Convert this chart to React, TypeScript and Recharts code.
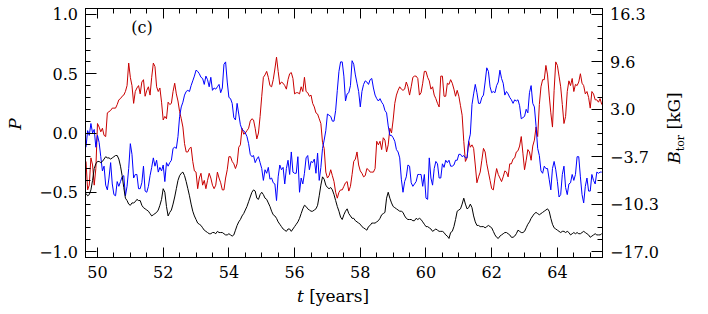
import React from "react";
import { LineChart, Line, XAxis, YAxis } from "recharts";

const yearsA = [
  49.65, 49.75, 49.85, 49.95, 50.05, 50.15, 50.25, 50.35, 50.45, 50.55,
  50.65, 50.75, 50.85, 50.95, 51.05, 51.15, 51.25, 51.35, 51.45, 51.55,
  51.65, 51.75, 51.85, 51.95, 52.05, 52.15, 52.25, 52.35, 52.45, 52.55,
  52.65, 52.75, 52.85, 52.95, 53.05, 53.15, 53.25, 53.35, 53.45, 53.55,
  53.65, 53.75, 53.85, 53.95, 54.05, 54.15, 54.25, 54.35, 54.45, 54.55,
  54.65, 54.75, 54.85, 54.95, 55.05, 55.15, 55.25, 55.35, 55.45, 55.55,
  55.65, 55.75, 55.85, 55.95, 56.05, 56.15, 56.25, 56.35, 56.45, 56.55,
  56.65, 56.75, 56.85, 56.95, 57.05, 57.15, 57.25, 57.35, 57.45, 57.55,
  57.65, 57.75, 57.85, 57.95, 58.05, 58.15, 58.25, 58.35, 58.45, 58.55,
  58.65, 58.75, 58.85, 58.95, 59.05, 59.15, 59.25, 59.35, 59.45, 59.55,
  59.65, 59.75, 59.85, 59.95, 60.05, 60.15, 60.25, 60.35, 60.45, 60.55,
  60.65, 60.75, 60.85, 60.95, 61.05, 61.15, 61.25, 61.35, 61.45, 61.55,
  61.65, 61.75, 61.85, 61.95, 62.05, 62.15, 62.25, 62.35, 62.45, 62.55,
  62.65, 62.75, 62.85, 62.95, 63.05, 63.15, 63.25, 63.35, 63.45, 63.55,
  63.65, 63.75, 63.85, 63.95, 64.05, 64.15, 64.25, 64.35, 64.45, 64.55,
  64.65, 64.75, 64.85, 64.95, 65.05, 65.15, 65.25, 65.35,
];

const redA = [
  -0.24, -0.44, -0.27, -0.30, 0.05, 0.04, -0.03, 0.18, 0.21, 0.21,
  0.28, 0.31, 0.35, 0.59, 0.40, 0.35, 0.40, 0.43, 0.31, 0.39,
  0.47, 0.56, 0.35, 0.26, 0.14, 0.26, 0.25, 0.42, 0.27, 0.12,
  -0.09, -0.16, -0.12, -0.32, -0.47, -0.34, -0.40, -0.40, -0.38, -0.47,
  -0.33, -0.42, -0.48, -0.31, -0.20, -0.26, -0.26, -0.10, -0.01, 0.02,
  0.10, 0.11, -0.05, 0.14, 0.47, 0.52, 0.40, 0.45, 0.64, 0.41,
  0.42, 0.37, 0.50, 0.46, 0.34, 0.33, 0.35, 0.35, 0.31, 0.25,
  0.17, 0.12, -0.08, -0.33, -0.36, -0.36, -0.50, -0.50, -0.48, -0.42,
  -0.49, -0.35, -0.22, -0.27, -0.34, -0.36, -0.31, -0.33, -0.30, -0.10,
  -0.14, -0.06, -0.10, 0.0, 0.25, 0.36, 0.37, 0.37, 0.39, 0.39,
  0.48, 0.46, 0.34, 0.52, 0.47, 0.37, 0.32, 0.25, 0.48, 0.31,
  0.42, 0.45, 0.37, 0.36, 0.23, -0.07, -0.21, -0.12, -0.13, -0.42,
  -0.33, -0.13, -0.26, -0.40, -0.48, -0.30, -0.38, -0.37, -0.33, -0.26,
  -0.22, -0.16, -0.11, -0.17, -0.23, -0.16, -0.11, 0.05, 0.24, 0.45,
  0.57, 0.32, 0.05, 0.60, 0.48, 0.24, 0.14, 0.44, 0.46, 0.41,
  0.43, 0.42, 0.33, 0.30, 0.35, 0.28, 0.26, 0.24,
];

const blueA = [
  -0.12, -0.02, 0.00, -0.12, -0.08, -0.32, -0.44, -0.38, -0.43, -0.53,
  -0.45, -0.37, -0.53, -0.30, -0.18, -0.35, -0.47, -0.42, -0.49, -0.45,
  -0.29, -0.28, -0.33, -0.32, -0.41, -0.28, -0.23, -0.12, -0.03, 0.22,
  0.32, 0.36, 0.40, 0.48, 0.52, 0.47, 0.41, 0.45, 0.47, 0.38,
  0.39, 0.34, 0.58, 0.43, 0.29, 0.13, 0.25, 0.07, 0.02, -0.03,
  -0.18, -0.19, -0.22, -0.25, -0.40, -0.34, -0.39, -0.42, -0.57, -0.27,
  -0.29, -0.30, -0.35, -0.33, -0.34, -0.50, -0.43, -0.21, -0.31, -0.25,
  -0.34, -0.40, -0.13, 0.02, 0.15, 0.10, 0.19, 0.52, 0.60, 0.27,
  0.34, 0.61, 0.49, 0.35, 0.35, 0.44, 0.41, 0.46, 0.32, 0.27,
  0.26, 0.19, 0.06, -0.02, -0.07, -0.16, -0.39, -0.41, -0.27, -0.42,
  -0.43, -0.35, -0.35, -0.35, -0.56, -0.38, -0.30, -0.26, -0.38, -0.29,
  -0.25, -0.28, -0.27, -0.23, -0.18, -0.19, -0.21, -0.01, 0.33, 0.34,
  0.25, 0.32, 0.55, 0.39, 0.35, 0.40, 0.53, 0.42, 0.35, 0.30,
  0.25, 0.27, 0.23, 0.13, 0.20, 0.34, 0.25, 0.06, -0.19, -0.34,
  -0.30, -0.39, -0.30, -0.31, -0.54, -0.35, -0.46, -0.43, -0.35, -0.35,
  -0.20, -0.52, -0.45, -0.49, -0.35, -0.43, -0.34, -0.33,
];

const blackA = [
  -0.51, -0.52, -0.40, -0.26, -0.24, -0.24, -0.20, -0.21, -0.21, -0.19,
  -0.22, -0.36, -0.55, -0.60, -0.59, -0.58, -0.57, -0.61, -0.64, -0.66,
  -0.70, -0.68, -0.65, -0.56, -0.50, -0.70, -0.65, -0.54, -0.40, -0.34,
  -0.36, -0.47, -0.60, -0.70, -0.76, -0.78, -0.82, -0.84, -0.85, -0.84,
  -0.83, -0.84, -0.85, -0.86, -0.86, -0.86, -0.78, -0.73, -0.68, -0.62,
  -0.54, -0.48, -0.55, -0.52, -0.52, -0.56, -0.62, -0.69, -0.72, -0.77,
  -0.81, -0.83, -0.81, -0.81, -0.77, -0.72, -0.64, -0.62, -0.65, -0.66,
  -0.64, -0.53, -0.37, -0.44, -0.47, -0.48, -0.57, -0.66, -0.73, -0.66,
  -0.68, -0.72, -0.74, -0.76, -0.79, -0.81, -0.79, -0.76, -0.76, -0.74,
  -0.69, -0.67, -0.50, -0.59, -0.63, -0.65, -0.66, -0.70, -0.73, -0.73,
  -0.74, -0.73, -0.73, -0.77, -0.79, -0.81, -0.82, -0.82, -0.83, -0.84,
  -0.87, -0.84, -0.79, -0.66, -0.64, -0.55, -0.64, -0.60, -0.70, -0.78,
  -0.79, -0.79, -0.79, -0.79, -0.83, -0.88, -0.87, -0.85, -0.84, -0.86,
  -0.88, -0.85, -0.83, -0.84, -0.80, -0.75, -0.70, -0.67, -0.69, -0.67,
  -0.65, -0.66, -0.77, -0.81, -0.83, -0.83, -0.84, -0.84, -0.85, -0.85,
  -0.85, -0.84, -0.84, -0.86, -0.87, -0.85, -0.86, -0.85,
];

const yearsB = [
  49.7, 49.8, 49.9, 50.0, 50.1, 50.2, 50.3, 50.4, 50.5, 50.6,
  50.7, 50.8, 50.9, 51.0, 51.1, 51.2, 51.3, 51.4, 51.5, 51.6,
  51.7, 51.8, 51.9, 52.0, 52.1, 52.2, 52.3, 52.4, 52.5, 52.6,
  52.7, 52.8, 52.9, 53.0, 53.1, 53.2, 53.3, 53.4, 53.5, 53.6,
  53.7, 53.8, 53.9, 54.0, 54.1, 54.2, 54.3, 54.4, 54.5, 54.6,
  54.7, 54.8, 54.9, 55.0, 55.1, 55.2, 55.3, 55.4, 55.5, 55.6,
  55.7, 55.8, 55.9, 56.0, 56.1, 56.2, 56.3, 56.4, 56.5, 56.6,
  56.7, 56.8, 56.9, 57.0, 57.1, 57.2, 57.3, 57.4, 57.5, 57.6,
  57.7, 57.8, 57.9, 58.0, 58.1, 58.2, 58.3, 58.4, 58.5, 58.6,
  58.7, 58.8, 58.9, 59.0, 59.1, 59.2, 59.3, 59.4, 59.5, 59.6,
  59.7, 59.8, 59.9, 60.0, 60.1, 60.2, 60.3, 60.4, 60.5, 60.6,
  60.7, 60.8, 60.9, 61.0, 61.1, 61.2, 61.3, 61.4, 61.5, 61.6,
  61.7, 61.8, 61.9, 62.0, 62.1, 62.2, 62.3, 62.4, 62.5, 62.6,
  62.7, 62.8, 62.9, 63.0, 63.1, 63.2, 63.3, 63.4, 63.5, 63.6,
  63.7, 63.8, 63.9, 64.0, 64.1, 64.2, 64.3, 64.4, 64.5, 64.6,
  64.7, 64.8, 64.9, 65.0, 65.1, 65.2, 65.3,
];

const redB = [
  -0.48, -0.21, -0.44, 0.08, 0.01, -0.02, 0.17, 0.19, 0.21, 0.24,
  0.29, 0.32, 0.40, 0.47, 0.25, 0.38, 0.33, 0.45, 0.36, 0.32,
  0.59, 0.39, 0.38, 0.11, 0.12, 0.24, 0.35, 0.33, 0.18, 0.05,
  -0.16, -0.13, -0.24, -0.33, -0.38, -0.44, -0.47, -0.34, -0.44, -0.44,
  -0.38, -0.48, -0.38, -0.20, -0.24, -0.30, -0.12, 0.04, 0.00, 0.04,
  0.12, 0.04, 0.00, 0.31, 0.49, 0.47, 0.39, 0.54, 0.52, 0.43,
  0.40, 0.45, 0.51, 0.33, 0.34, 0.39, 0.47, 0.34, 0.32, 0.22,
  0.16, 0.08, -0.13, -0.38, -0.31, -0.41, -0.55, -0.48, -0.45, -0.41,
  -0.45, -0.24, -0.16, -0.32, -0.37, -0.30, -0.33, -0.33, -0.07, -0.07,
  -0.04, -0.16, 0.04, 0.11, 0.32, 0.39, 0.36, 0.43, 0.32, 0.47,
  0.48, 0.32, 0.42, 0.52, 0.44, 0.39, 0.29, 0.22, 0.48, 0.31,
  0.41, 0.42, 0.31, 0.31, 0.15, -0.24, -0.07, -0.10, -0.27, -0.37,
  -0.23, -0.16, -0.33, -0.47, -0.38, -0.35, -0.41, -0.32, -0.37, -0.26,
  -0.21, -0.15, -0.03, -0.31, -0.14, -0.23, -0.06, -0.03, 0.39, 0.45,
  0.49, 0.17, 0.36, 0.57, 0.39, 0.08, 0.35, 0.40, 0.35, 0.40,
  0.50, 0.40, 0.35, 0.21, 0.33, 0.28, 0.29,
];

const blueB = [
  0.02, 0.08, 0.03, -0.02, -0.20, -0.28, -0.48, -0.25, -0.52, -0.41,
  -0.41, -0.36, -0.45, -0.09, -0.38, -0.35, -0.47, -0.28, -0.50, -0.36,
  -0.21, -0.23, -0.29, -0.27, -0.25, -0.25, -0.13, -0.13, 0.14, 0.26,
  0.35, 0.35, 0.44, 0.53, 0.50, 0.46, 0.48, 0.39, 0.36, 0.37,
  0.41, 0.38, 0.60, 0.30, 0.25, 0.11, 0.16, 0.03, 0.00, -0.09,
  -0.20, -0.25, -0.20, -0.30, -0.31, -0.29, -0.38, -0.43, -0.37, -0.31,
  -0.43, -0.23, -0.16, -0.34, -0.20, -0.38, -0.34, -0.19, -0.24, -0.22,
  -0.17, -0.29, -0.06, 0.16, 0.14, 0.10, 0.36, 0.60, 0.48, 0.33,
  0.40, 0.58, 0.42, 0.22, 0.41, 0.43, 0.45, 0.38, 0.29, 0.29,
  0.24, 0.17, -0.02, -0.04, -0.14, -0.21, -0.50, -0.37, -0.28, -0.45,
  -0.41, -0.35, -0.45, -0.55, -0.21, -0.44, -0.24, -0.38, -0.26, -0.23,
  -0.23, -0.28, -0.23, -0.18, -0.20, -0.21, -0.07, 0.24, 0.41, 0.25,
  0.30, 0.43, 0.52, 0.34, 0.34, 0.43, 0.46, 0.32, 0.33, 0.28,
  0.28, 0.28, 0.12, 0.14, 0.17, 0.40, 0.22, -0.13, -0.32, -0.28,
  -0.30, -0.48, -0.24, -0.41, -0.52, -0.28, -0.52, -0.42, -0.40, -0.20,
  -0.37, -0.59, -0.38, -0.49, -0.40, -0.33, -0.33,
];

const blackB = [
  -0.53, -0.48, -0.30, -0.24, -0.25, -0.22, -0.21, -0.22, -0.20, -0.19,
  -0.28, -0.46, -0.57, -0.61, -0.59, -0.56, -0.57, -0.63, -0.65, -0.68,
  -0.69, -0.67, -0.61, -0.47, -0.62, -0.67, -0.60, -0.47, -0.36, -0.33,
  -0.41, -0.53, -0.66, -0.73, -0.77, -0.80, -0.83, -0.85, -0.84, -0.85,
  -0.84, -0.84, -0.86, -0.85, -0.87, -0.82, -0.75, -0.70, -0.65, -0.58,
  -0.50, -0.49, -0.56, -0.50, -0.55, -0.59, -0.66, -0.70, -0.75, -0.79,
  -0.82, -0.81, -0.83, -0.79, -0.75, -0.68, -0.61, -0.64, -0.66, -0.65,
  -0.61, -0.44, -0.39, -0.46, -0.46, -0.52, -0.62, -0.71, -0.69, -0.64,
  -0.70, -0.72, -0.75, -0.77, -0.80, -0.82, -0.78, -0.76, -0.75, -0.72,
  -0.68, -0.55, -0.55, -0.62, -0.64, -0.66, -0.67, -0.72, -0.73, -0.74,
  -0.72, -0.72, -0.75, -0.79, -0.80, -0.83, -0.81, -0.83, -0.83, -0.86,
  -0.89, -0.83, -0.73, -0.65, -0.60, -0.60, -0.63, -0.63, -0.75, -0.78,
  -0.79, -0.80, -0.78, -0.80, -0.86, -0.89, -0.86, -0.84, -0.85, -0.88,
  -0.87, -0.82, -0.84, -0.83, -0.77, -0.72, -0.68, -0.68, -0.68, -0.66,
  -0.64, -0.72, -0.80, -0.82, -0.84, -0.83, -0.83, -0.86, -0.84, -0.84,
  -0.85, -0.83, -0.85, -0.88, -0.86, -0.86, -0.86,
];

// ---- axes ----
const xTicks = [
  50, 50.5, 51, 51.5, 52, 52.5, 53, 53.5, 54, 54.5, 55, 55.5, 56, 56.5,
  57, 57.5, 58, 58.5, 59, 59.5, 60, 60.5, 61, 61.5, 62, 62.5, 63, 63.5,
  64, 64.5, 65,
];
const xLabelYears = [50, 52, 54, 56, 58, 60, 62, 64];

const pTicks = [
  -1.0, -0.9, -0.8, -0.7, -0.6, -0.5, -0.4, -0.3, -0.2, -0.1, 0.0,
  0.1, 0.2, 0.3, 0.4, 0.5, 0.6, 0.7, 0.8, 0.9, 1.0,
];
const leftLabelValues = [-1.0, -0.5, 0.0, 0.5, 1.0];
// right axis (B_tor) labels, placed at these P positions
const rightLabelPositions = [1.0, 0.6, 0.2, -0.2, -0.6, -1.0];
const rightLabels = ["16.3", "9.6", "3.0", "\u22123.7", "\u221210.3", "\u221217.0"];

// ---- layout ----
const W = 708;
const H = 314;
const PL = 85.5;
const PR = 602.5;
const PT = 8.5;
const PB = 257.5;
const AX = 30;
const FONT = "'DejaVu Serif', 'Liberation Serif', serif";
const RED = "#c80000";
const BLUE = "#0000ff";

const rows = [
  ...yearsA.map((t, i) => ({ t, red: redA[i], blue: blueA[i], black: blackA[i] })),
  ...yearsB.map((t, i) => ({ t, red: redB[i], blue: blueB[i], black: blackB[i] })),
].sort((a, b) => a.t - b.t);

const fmt = (v: number, d = 1) =>
  v < 0 ? "\u2212" + Math.abs(v).toFixed(d) : v.toFixed(d);

const crisp = (v: number) => Math.floor(v) + 0.5;
const near = (a: number, b: number) => Math.abs(a - b) < 1e-6;

const renderXTick = (props: any) => {
  const { x, payload } = props;
  const v = payload.value as number;
  const major = xLabelYears.some((m) => near(m, v));
  const len = major ? 10 : 5;
  const cx = crisp(x);
  return (
    <g key={"xt" + v}>
      <line x1={cx} x2={cx} y1={PB} y2={PB - len} stroke="#000" strokeWidth={1} />
      <line x1={cx} x2={cx} y1={PT} y2={PT + len} stroke="#000" strokeWidth={1} />
      {major && (
        <text x={x} y={278} textAnchor="middle" fontFamily={FONT} fontSize={16} fill="#000">
          {String(v)}
        </text>
      )}
    </g>
  );
};

const renderLeftTick = (props: any) => {
  const { y, payload } = props;
  const v = payload.value as number;
  const major = leftLabelValues.some((m) => near(m, v));
  const len = major ? 11 : 5;
  const cy = crisp(y);
  return (
    <g key={"lt" + v}>
      <line x1={PL} x2={PL + len} y1={cy} y2={cy} stroke="#000" strokeWidth={1} />
      {major && (
        <text x={78} y={y + 6} textAnchor="end" fontFamily={FONT} fontSize={16} fill="#000">
          {fmt(v)}
        </text>
      )}
    </g>
  );
};

const renderRightTick = (props: any) => {
  const { y, payload } = props;
  const v = payload.value as number;
  const idx = rightLabelPositions.findIndex((m) => near(m, v));
  const major = idx >= 0;
  const len = major ? 11 : 5;
  const cy = crisp(y);
  return (
    <g key={"rt" + v}>
      <line x1={PR} x2={PR - len} y1={cy} y2={cy} stroke="#000" strokeWidth={1} />
      {major && (
        <text x={610} y={y + 6} textAnchor="start" fontFamily={FONT} fontSize={16} fill="#000">
          {rightLabels[idx]}
        </text>
      )}
    </g>
  );
};

export default function App() {
  return (
    <div style={{ position: "absolute", left: 0, top: 0, width: W, height: H, background: "#fff" }}>
      <LineChart
        width={W}
        height={H}
        data={rows}
        margin={{ top: PT, right: W - PR - AX, bottom: H - PB - AX, left: PL - AX }}
      >
        <XAxis
          dataKey="t"
          type="number"
          domain={[49.635, 65.373]}
          allowDataOverflow
          ticks={xTicks}
          interval={0}
          tick={renderXTick}
          tickLine={false}
          axisLine={false}
          height={AX}
        />
        <YAxis
          yAxisId="left"
          type="number"
          domain={[-1.0506, 1.0506]}
          allowDataOverflow
          ticks={pTicks}
          interval={0}
          tick={renderLeftTick}
          tickLine={false}
          axisLine={false}
          width={AX}
        />
        <YAxis
          yAxisId="right"
          orientation="right"
          type="number"
          domain={[-1.0506, 1.0506]}
          allowDataOverflow
          ticks={pTicks}
          interval={0}
          tick={renderRightTick}
          tickLine={false}
          axisLine={false}
          width={AX}
        />
        <Line yAxisId="left" dataKey="red" stroke={RED} strokeWidth={1} dot={false} isAnimationActive={false} />
        <Line yAxisId="left" dataKey="blue" stroke={BLUE} strokeWidth={1} dot={false} isAnimationActive={false} />
        <Line yAxisId="left" dataKey="black" stroke="#000" strokeWidth={1} dot={false} isAnimationActive={false} />
      </LineChart>
      <svg
        width={W}
        height={H}
        style={{ position: "absolute", left: 0, top: 0, pointerEvents: "none" }}
      >
        <rect x={PL} y={PT} width={PR - PL} height={PB - PT} fill="none" stroke="#000" strokeWidth={1} />
        <text x={142} y={33} textAnchor="middle" fontFamily={FONT} fontSize={16} fill="#000">
          (c)
        </text>
        <text
          transform="translate(21,124) rotate(-90)"
          textAnchor="middle"
          fontFamily={FONT}
          fontSize={17}
          fontStyle="italic"
          fill="#000"
        >
          P
        </text>
        <text x={333} y={302} textAnchor="middle" fontFamily={FONT} fontSize={17} fill="#000">
          <tspan fontStyle="italic">t</tspan>
          <tspan> [years]</tspan>
        </text>
        <text
          transform="translate(680,128) rotate(-90)"
          textAnchor="middle"
          fontFamily={FONT}
          fontSize={17}
          fill="#000"
        >
          <tspan fontStyle="italic">B</tspan>
          <tspan fontSize={11} dy={4}>tor</tspan>
          <tspan dy={-4}> [kG]</tspan>
        </text>
      </svg>
    </div>
  );
}
